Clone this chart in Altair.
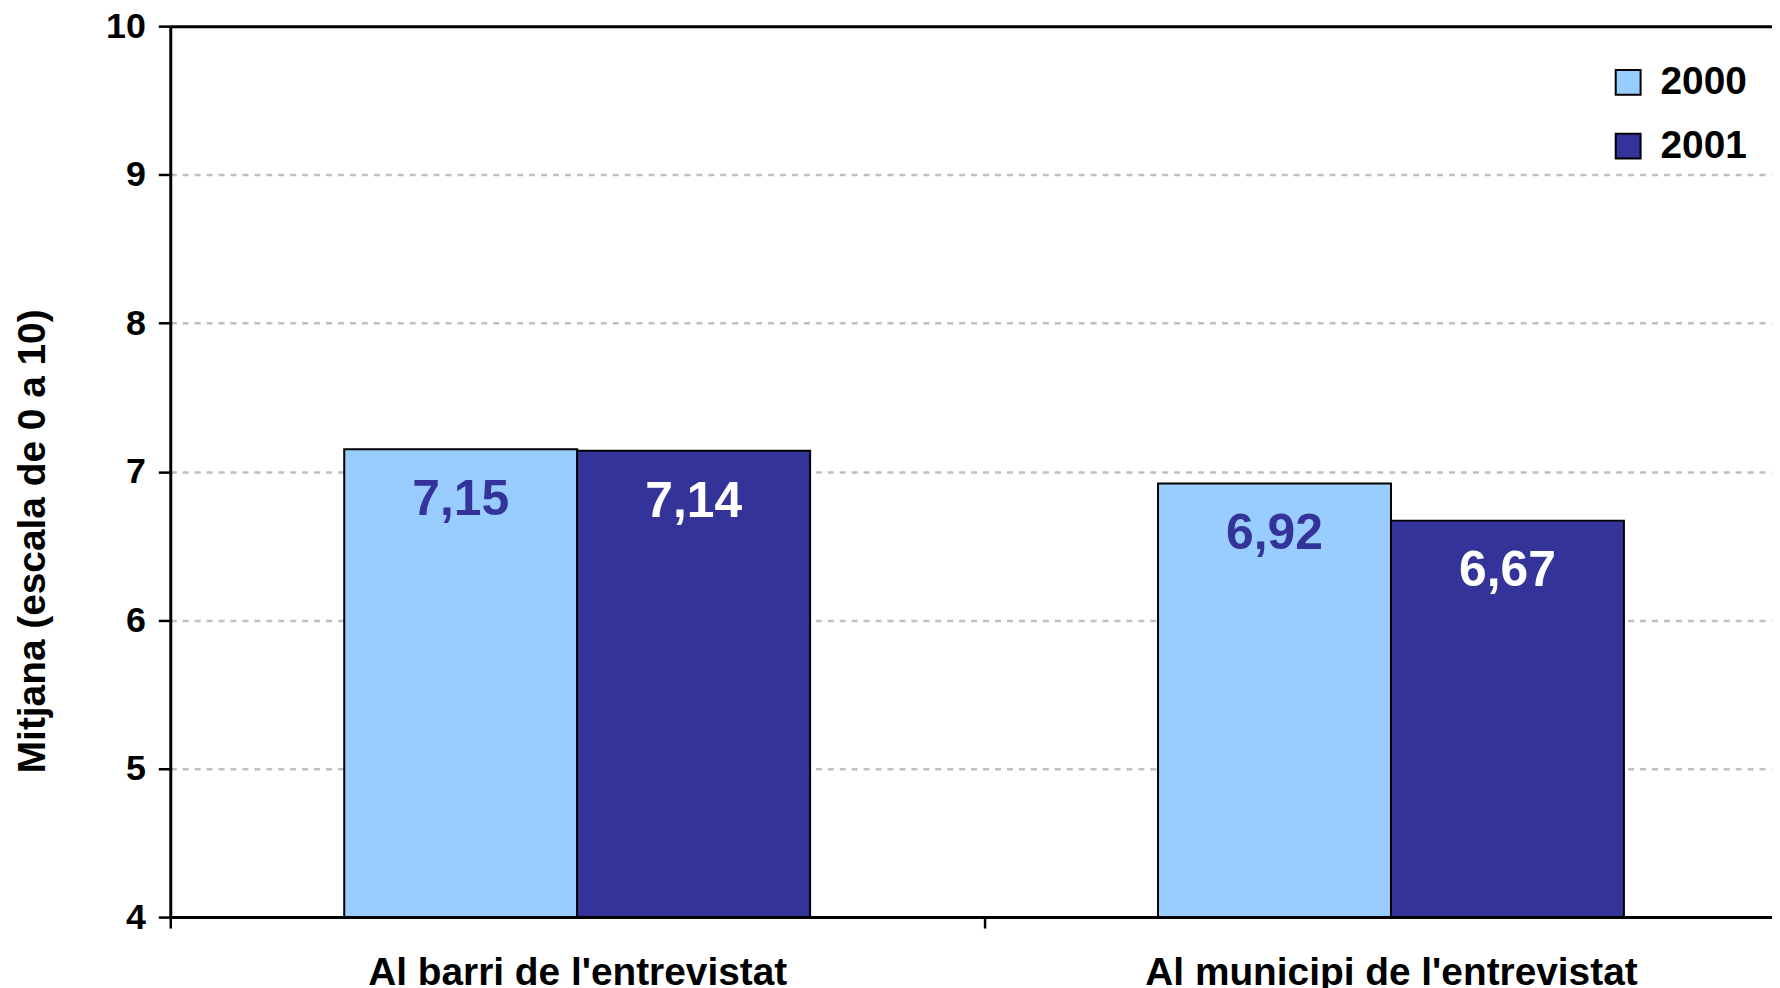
import altair as alt
import pandas as pd

categories = ["Al barri de l'entrevistat", "Al municipi de l'entrevistat"]
years = ["2000", "2001"]
values_2000 = [7.15, 6.92]
values_2001 = [7.14, 6.67]
y_ticks = [4, 5, 6, 7, 8, 9, 10]

rows = []
for i, c in enumerate(categories):
    for y, vals in zip(years, [values_2000, values_2001]):
        v = vals[i]
        rows.append({"cat": c, "year": y, "value": v,
                     "label": f"{v:.2f}".replace(".", ",")})
df = pd.DataFrame(rows)

FONT = "Liberation Sans"

x = alt.X("cat:N", sort=categories, title=None,
          scale=alt.Scale(paddingInner=0, paddingOuter=0),
          axis=alt.Axis(labelAngle=0, labelFontSize=39, labelFontWeight="bold",
                        labelFont=FONT, labelColor="black", labelPadding=26, labelLimit=0,
                        tickBand="extent", tickSize=11, tickWidth=2.5, tickColor="black",
                        domainColor="black", domainWidth=3, grid=False))
xo = alt.XOffset("year:N", sort=years, scale=alt.Scale(paddingInner=0, paddingOuter=0.7468))
y = alt.Y("value:Q", title="Mitjana (escala de 0 a 10)",
          scale=alt.Scale(domain=[4, 10], nice=False, zero=False),
          axis=alt.Axis(values=y_ticks, format="d", labelFontSize=36, labelFontWeight="bold",
                        labelFont=FONT, labelColor="black", labelPadding=13,
                        tickSize=12, tickWidth=2.5, tickColor="black",
                        domainColor="black", domainWidth=3,
                        grid=True,
                        gridColor=alt.condition("datum.value == 10", alt.value("black"), alt.value("#C0C0C0")),
                        gridDash=alt.condition("datum.value == 10", alt.value([]), alt.value([6, 6])),
                        gridWidth=alt.condition("datum.value == 10", alt.value(3), alt.value(2.5)),
                        titleFont=FONT, titleFontSize=39, titleFontWeight="bold",
                        titleColor="black", titleAngle=270, titleBaseline="middle",
                        titleAlign="center", titleX=-138, titleY=517))

bars = alt.Chart(df).mark_bar(stroke="black", strokeWidth=2).encode(
    x=x, xOffset=xo, y=y, y2=alt.datum(4),
    color=alt.Color("year:N", sort=years,
                    scale=alt.Scale(domain=years, range=["#99CCFF", "#333399"]),
                    legend=alt.Legend(title=None, orient="none", legendX=1445, legendY=37,
                                      symbolType="square", symbolSize=625,
                                      symbolStrokeColor="black", symbolStrokeWidth=2,
                                      labelFontSize=39, labelFontWeight="bold",
                                      labelFont=FONT, labelColor="black",
                                      labelOffset=13, rowPadding=24, padding=0)),
)

text = alt.Chart(df).mark_text(fontSize=50, fontWeight="bold", font=FONT,
                               baseline="alphabetic", dy=66).encode(
    x=x, xOffset=xo, y="value:Q", text="label:N",
    color=alt.condition("datum.year == '2000'", alt.value("#333399"), alt.value("white")),
)

chart = alt.layer(bars, text).properties(
    width=1635, height=895,
    autosize=alt.AutoSizeParams(type="none"),
    padding={"left": 163, "top": 16, "right": -26, "bottom": 69},
).configure_view(stroke="black", strokeWidth=2.5).configure(background="white")

chart.save("out.html", embed_options={"renderer": "svg", "actions": False})
